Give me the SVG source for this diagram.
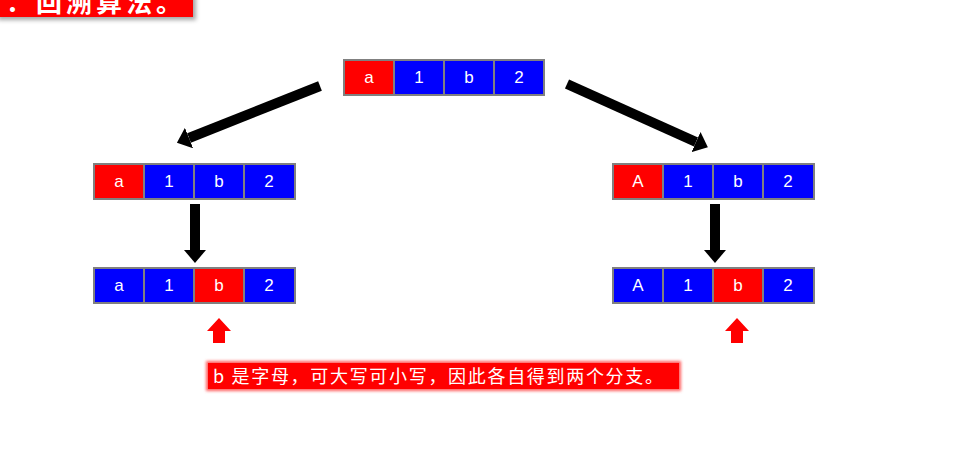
<svg xmlns="http://www.w3.org/2000/svg" width="967" height="459" viewBox="0 0 967 459">
<defs>
<style>
.cell{stroke:#808080;stroke-width:2}
.r{fill:#ff0000}
.b{fill:#0000ff}
.t{fill:#fff;font-family:"Liberation Sans",Arial,sans-serif;font-size:17px;text-anchor:middle}
.conn{stroke:#000;stroke-width:10;fill:none}
.ptr{fill:#ff0000}
</style>
<marker id="ah" markerWidth="1.3" markerHeight="2.2" refX="0" refY="1.1" orient="auto" markerUnits="strokeWidth">
<path d="M0,0 L1.3,1.1 L0,2.2 Z" fill="#000"/>
</marker>
<filter id="sh" x="-5%" y="-50%" width="115%" height="200%">
<feDropShadow dx="3" dy="3" stdDeviation="2" flood-color="#000" flood-opacity="0.35"/>
</filter>
<filter id="glow" x="-5%" y="-50%" width="110%" height="200%">
<feGaussianBlur stdDeviation="1.5"/>
</filter>
</defs>
<rect width="967" height="459" fill="#fff"/>

<g id="title">
<rect x="-5" y="-10" width="198" height="27" fill="#ff0000" filter="url(#sh)"/>
<text x="6" y="12" fill="#fff" font-family="'Noto Sans CJK SC',sans-serif" font-size="26" font-weight="bold" letter-spacing="4">：回溯算法。</text>
</g>

<g id="root">
<rect class="cell r" x="344" y="60" width="50" height="35"/>
<rect class="cell b" x="394" y="60" width="50" height="35"/>
<rect class="cell b" x="444" y="60" width="50" height="35"/>
<rect class="cell b" x="494" y="60" width="50" height="35"/>
<text class="t" x="369" y="83">a</text>
<text class="t" x="419" y="83">1</text>
<text class="t" x="469" y="83">b</text>
<text class="t" x="519" y="83">2</text>
</g>

<g id="left1">
<rect class="cell r" x="94" y="164" width="50" height="35"/>
<rect class="cell b" x="144" y="164" width="50" height="35"/>
<rect class="cell b" x="194" y="164" width="50" height="35"/>
<rect class="cell b" x="244" y="164" width="51" height="35"/>
<text class="t" x="119" y="187">a</text>
<text class="t" x="169" y="187">1</text>
<text class="t" x="219" y="187">b</text>
<text class="t" x="269" y="187">2</text>
</g>

<g id="right1">
<rect class="cell r" x="613" y="164" width="50" height="35"/>
<rect class="cell b" x="663" y="164" width="50" height="35"/>
<rect class="cell b" x="713" y="164" width="50" height="35"/>
<rect class="cell b" x="763" y="164" width="51" height="35"/>
<text class="t" x="638" y="187">A</text>
<text class="t" x="688" y="187">1</text>
<text class="t" x="738" y="187">b</text>
<text class="t" x="788" y="187">2</text>
</g>

<g id="left2">
<rect class="cell b" x="94" y="268" width="50" height="35"/>
<rect class="cell b" x="144" y="268" width="50" height="35"/>
<rect class="cell r" x="194" y="268" width="50" height="35"/>
<rect class="cell b" x="244" y="268" width="51" height="35"/>
<text class="t" x="119" y="291">a</text>
<text class="t" x="169" y="291">1</text>
<text class="t" x="219" y="291">b</text>
<text class="t" x="269" y="291">2</text>
</g>

<g id="right2">
<rect class="cell b" x="613" y="268" width="50" height="35"/>
<rect class="cell b" x="663" y="268" width="50" height="35"/>
<rect class="cell r" x="713" y="268" width="50" height="35"/>
<rect class="cell b" x="763" y="268" width="51" height="35"/>
<text class="t" x="638" y="291">A</text>
<text class="t" x="688" y="291">1</text>
<text class="t" x="738" y="291">b</text>
<text class="t" x="788" y="291">2</text>
</g>

<g id="connectors">
<line class="conn" x1="320" y1="86" x2="189" y2="138" marker-end="url(#ah)"/>
<line class="conn" x1="567" y1="84" x2="696" y2="142" marker-end="url(#ah)"/>
<line class="conn" x1="195" y1="204" x2="195" y2="250" marker-end="url(#ah)"/>
<line class="conn" x1="715" y1="204" x2="715" y2="250" marker-end="url(#ah)"/>
</g>

<g id="pointer-left">
<path class="ptr" d="M219,318 L231,331 L225,331 L225,343 L213,343 L213,331 L207,331 Z"/>
</g>
<g id="pointer-right">
<path class="ptr" d="M737,318 L749,331 L743,331 L743,343 L731,343 L731,331 L725,331 Z"/>
</g>

<g id="note">
<rect x="206" y="361" width="475" height="30" fill="#ff6060" filter="url(#glow)"/>
<rect x="208" y="363" width="471" height="26" fill="#ff0000"/>
<text x="213" y="383" fill="#fff" font-family="'Noto Sans CJK SC',sans-serif" font-size="18" textLength="450" lengthAdjust="spacing">b 是字母，可大写可小写，因此各自得到两个分支。</text>
</g>
</svg>
